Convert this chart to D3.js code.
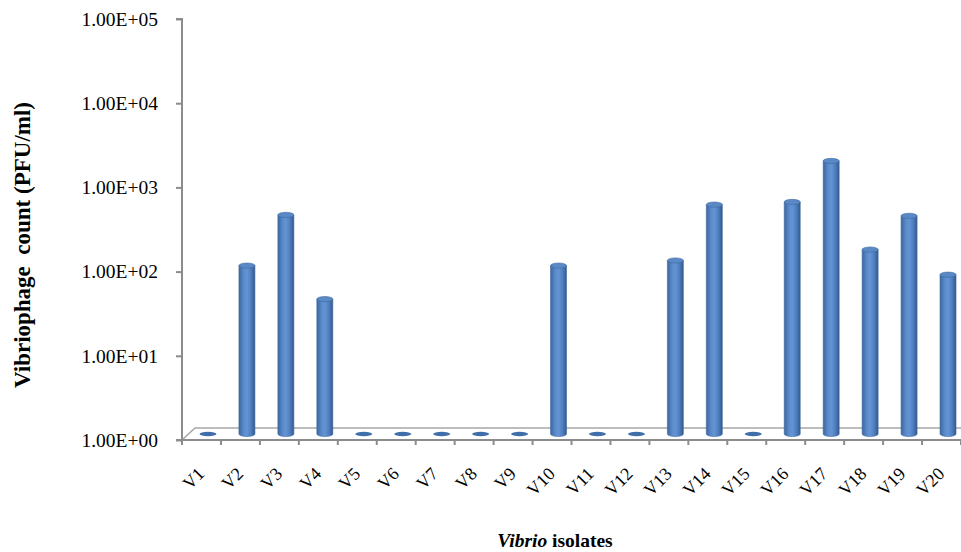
<!DOCTYPE html>
<html>
<head>
<meta charset="utf-8">
<script src="https://cdn.jsdelivr.net/npm/d3@7"></script>
<style>
  html, body { margin: 0; padding: 0; background: #fff; }
  svg { display: block; }
</style>
</head>
<body>
<svg id="chart" width="961" height="552"></svg>
<script>
// Vibriophage counts (PFU/ml) per Vibrio isolate; 1 marks isolates with no plaques
const isolates = ["V1","V2","V3","V4","V5","V6","V7","V8","V9","V10",
                  "V11","V12","V13","V14","V15","V16","V17","V18","V19","V20"];
const counts = [1, 100, 400, 40, 1, 1, 1, 1, 1, 100,
                1, 1, 115, 530, 1, 570, 1750, 155, 390, 78];
const yTicks = [1, 10, 100, 1000, 10000, 100000];
const yTickLabels = ["1.00E+00","1.00E+01","1.00E+02","1.00E+03","1.00E+04","1.00E+05"];

const svg = d3.select("#chart");
const serif = "'Liberation Serif', 'Times New Roman', serif";
const left = 182, right = 961, floorY = 440, topY = 19;
// depth of the 3-D floor: bars stand half-way back
const depthX = 13, depthY = 12;
const barDX = depthX / 2, barDY = depthY / 2;

const x = d3.scaleBand().domain(isolates).range([left, right]).paddingInner(0).paddingOuter(0);
const y = d3.scaleLog().domain([1, 100000]).range([floorY, topY]);

const defs = svg.append("defs");
const grad = defs.append("linearGradient").attr("id", "cyl").attr("x1", "0%").attr("x2", "100%");
[["0%", "#3b679f"], ["30%", "#5b8bcb"], ["50%", "#6494d3"], ["75%", "#4f7fbe"], ["100%", "#33598c"]]
  .forEach(([o, c]) => grad.append("stop").attr("offset", o).attr("stop-color", c));

const axisColor = "#8c8c8c";

// floor
svg.append("path")
  .attr("d", `M${left},${floorY} L${left + depthX},${floorY - depthY} L${right + depthX},${floorY - depthY}`)
  .attr("fill", "none").attr("stroke", "#a8a8a8").attr("stroke-width", 1.6);
svg.append("line")
  .attr("x1", left).attr("x2", right).attr("y1", floorY).attr("y2", floorY)
  .attr("stroke", axisColor).attr("stroke-width", 2);

// category ticks on the front edge
svg.append("g").selectAll("line")
  .data(isolates.map(d => x(d)).concat([right]))
  .join("line")
  .attr("x1", d => d).attr("x2", d => d)
  .attr("y1", floorY).attr("y2", floorY + 5)
  .attr("stroke", axisColor).attr("stroke-width", 2);

// value axis
const yAxis = d3.axisLeft(y).tickValues(yTicks)
  .tickFormat((d, i) => yTickLabels[i]).tickSize(6).tickPadding(18);
const gy = svg.append("g").attr("transform", `translate(${left},0)`).call(yAxis);
gy.select(".domain").attr("stroke", axisColor).attr("stroke-width", 2)
  .attr("d", `M-6,${topY}H0V${floorY}H-6`);
gy.selectAll(".tick line").attr("stroke", axisColor).attr("stroke-width", 2);
gy.selectAll(".tick text")
  .attr("font-family", serif)
  .attr("font-size", 19.5).attr("fill", "#000");

// cylinders
const bw = 16, ry = 2.6;
const bars = svg.append("g").selectAll("g").data(isolates.map((d, i) => ({ k: d, v: counts[i] })))
  .join("g")
  .attr("transform", d => `translate(${x(d.k) + x.bandwidth() / 2 + barDX},0)`);

bars.each(function (d) {
  const g = d3.select(this);
  const yb = y(1) - barDY, yt = y(d.v) - barDY;
  if (d.v > 1) {
    g.append("path")
      .attr("d", `M${-bw / 2},${yt} L${-bw / 2},${yb} A${bw / 2},${ry} 0 0 0 ${bw / 2},${yb} L${bw / 2},${yt} Z`)
      .attr("fill", "url(#cyl)").attr("stroke", "#3f6aa0").attr("stroke-width", 0.6);
    g.append("ellipse").attr("cx", 0).attr("cy", yt).attr("rx", bw / 2).attr("ry", ry)
      .attr("fill", "#5a89c6").attr("stroke", "#3f6aa0").attr("stroke-width", 0.6);
  } else {
    g.append("ellipse").attr("cx", 0).attr("cy", yb).attr("rx", bw / 2 + 0.5).attr("ry", 2.2)
      .attr("fill", "#3f6ea8");
  }
});

// category labels
svg.append("g").selectAll("text").data(isolates).join("text")
  .attr("transform", d => `translate(${x(d) + x.bandwidth() / 2 + 4},${475}) rotate(-45)`)
  .attr("text-anchor", "end")
  .attr("font-family", serif)
  .attr("font-size", 18).attr("fill", "#000")
  .text(d => d);

// axis titles
svg.append("text")
  .attr("transform", "translate(30,245) rotate(-90)")
  .attr("text-anchor", "middle")
  .style("white-space", "pre")
  .attr("font-family", serif)
  .attr("font-size", 23).attr("font-weight", "bold").attr("fill", "#000")
  .text("Vibriophage  count (PFU/ml)");

const xt = svg.append("text")
  .attr("x", 555).attr("y", 547)
  .attr("text-anchor", "middle")
  .attr("font-family", serif)
  .attr("font-size", 19.5).attr("font-weight", "bold").attr("fill", "#000");
xt.append("tspan").attr("font-style", "italic").text("Vibrio");
xt.append("tspan").text(" isolates");
</script>
</body>
</html>
